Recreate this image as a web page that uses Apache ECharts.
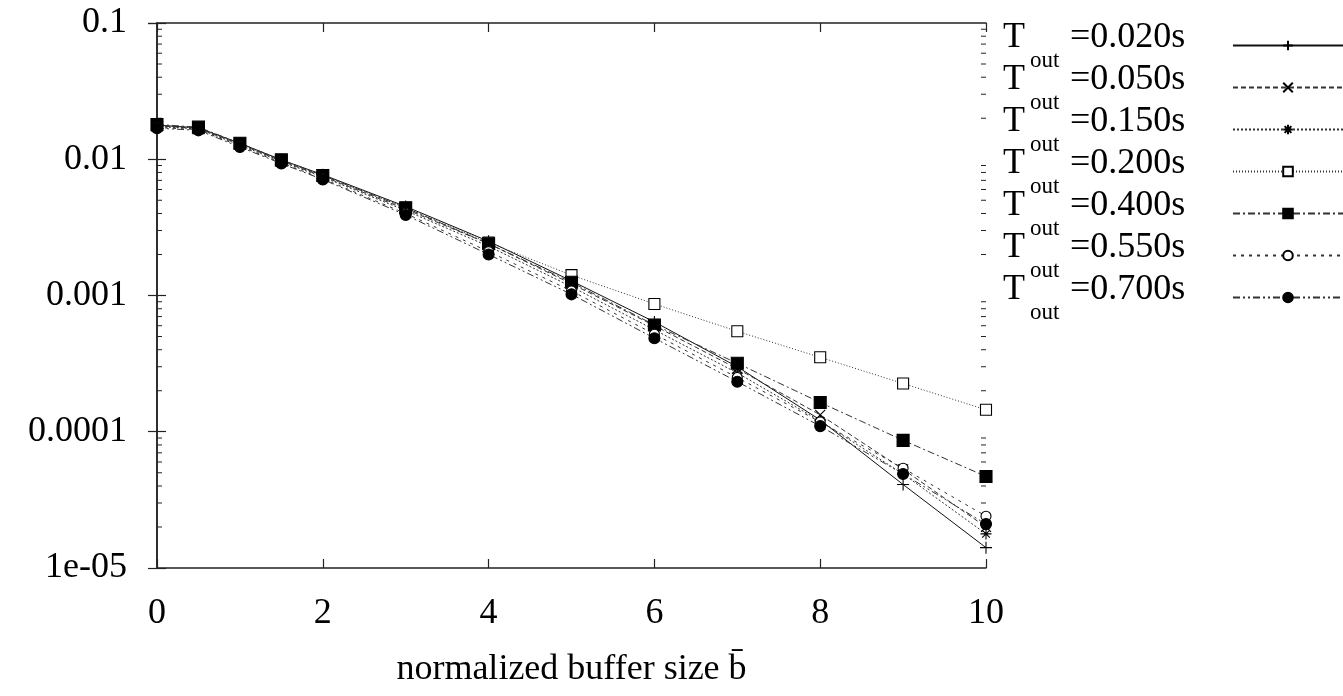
<!DOCTYPE html>
<html>
<head>
<meta charset="utf-8">
<script src="https://cdn.jsdelivr.net/npm/echarts@6/dist/echarts.min.js"></script>
<style>
  html, body { margin: 0; padding: 0; background: #fff; }
  #chart { width: 1343px; height: 696px; }
</style>
</head>
<body>
<div id="chart"></div>
<script>
// Normalized buffer size on the x axis
const bufferSizes = [0, 0.5, 1, 1.5, 2, 3, 4, 5, 6, 7, 8, 9, 10];

// Timeout values (seconds) for each curve
const timeouts = ['0.020', '0.050', '0.150', '0.200', '0.400', '0.550', '0.700'];

// Loss probability per timeout
const loss020 = [0.0178, 0.0170, 0.0131, 0.0099, 0.0077, 0.0045, 0.0025, 0.00128, 0.00064, 0.00030, 0.000122, 0.000041, 0.0000141];
const loss050 = [0.0176, 0.0168, 0.0129, 0.0097, 0.0075, 0.0043, 0.0024, 0.00122, 0.00060, 0.00029, 0.000133, 0.000053, 0.000020];
const loss150 = [0.0174, 0.0167, 0.0127, 0.0096, 0.0074, 0.0042, 0.0023, 0.00116, 0.00056, 0.00027, 0.000120, 0.000049, 0.0000178];
const loss200 = [0.0177, 0.0169, 0.0130, 0.0098, 0.0076, 0.0044, 0.00245, 0.00141, 0.000867, 0.000546, 0.000352, 0.000226, 0.000145];
const loss400 = [0.0180, 0.0172, 0.0131, 0.0099, 0.0076, 0.0044, 0.0024, 0.00125, 0.000608, 0.000318, 0.000164, 0.0000865, 0.000047];
const loss550 = [0.0171, 0.0165, 0.0125, 0.0094, 0.0072, 0.0040, 0.0021, 0.00108, 0.00052, 0.00025, 0.000118, 0.000054, 0.000024];
const loss700 = [0.0169, 0.0163, 0.0123, 0.0093, 0.0071, 0.0039, 0.0020, 0.00102, 0.000486, 0.000233, 0.000110, 0.000049, 0.000021];

// Tick labels
const yTickLabels = ['1e-05', '0.0001', '0.001', '0.01', '0.1'];
const xTickLabels = ['0', '2', '4', '6', '8', '10'];

const FONT = '"Liberation Serif", "Times New Roman", serif';

// gnuplot-like point and dash styles
const PLUS = 'path://M0,5L10,5M5,0L5,10';
const CROSS = 'path://M0,0L10,10M10,0L0,10';
const STAR = 'path://M0,5L10,5M5,0L5,10M1.5,1.5L8.5,8.5M8.5,1.5L1.5,8.5';

const styles = [
  { data: loss020, symbol: PLUS,     size: 12, fill: '#000', dash: 'solid',              color: '#111' },
  { data: loss050, symbol: CROSS,    size: 10, fill: '#000', dash: [5, 3],               color: '#333' },
  { data: loss150, symbol: STAR,     size: 11, fill: '#000', dash: [2, 2],               color: '#333' },
  { data: loss200, symbol: 'rect',   size: 11, fill: '#fff', dash: [1, 2],               color: '#333' },
  { data: loss400, symbol: 'rect',   size: 12, fill: '#000', dash: [7, 3, 2, 3],         color: '#333' },
  { data: loss550, symbol: 'circle', size: 10, fill: '#fff', dash: [3, 5],               color: '#333' },
  { data: loss700, symbol: 'circle', size: 11, fill: '#000', dash: [7, 3, 2, 3, 2, 3],   color: '#333' }
];

const seriesNames = timeouts.map(t => 'Tout=' + t + 's');

const lineSeries = styles.map((s, i) => ({
  name: seriesNames[i],
  type: 'line',
  data: bufferSizes.map((x, j) => [x, s.data[j]]),
  symbol: s.symbol,
  symbolSize: s.size,
  showAllSymbol: true,
  clip: false,
  lineStyle: { color: s.color, width: 1, type: s.dash },
  itemStyle: { color: s.fill, borderColor: '#000', borderWidth: 1.1 },
  emphasis: { disabled: true },
  z: 3 + i
}));

// Minor log ticks (2..9 within each decade) on left and right frame
const minorTickValues = [];
for (let e = -5; e < -1; e++) {
  for (let m = 2; m <= 9; m++) minorTickValues.push(m * Math.pow(10, e));
}

const minorTickSeries = {
  name: 'minorTicks',
  type: 'custom',
  silent: true,
  clip: false,
  data: minorTickValues.map(v => [0, v]),
  renderItem: (params, api) => {
    const left = api.coord([0, api.value(1)]);
    const right = api.coord([10, api.value(1)]);
    const st = { stroke: '#222', lineWidth: 1 };
    return {
      type: 'group',
      children: [
        { type: 'line', shape: { x1: left[0], y1: left[1], x2: left[0] + 5, y2: left[1] }, style: st },
        { type: 'line', shape: { x1: right[0] - 5, y1: right[1], x2: right[0], y2: right[1] }, style: st }
      ]
    };
  },
  z: 2
};

const yLabel = v => yTickLabels[Math.round(Math.log10(v)) + 5] || '';
const xLabel = v => xTickLabels[Math.round(v / 2)] || '';

const axisLineStyle = { lineStyle: { color: '#222', width: 1.5 } };

const option = {
  animation: false,
  backgroundColor: '#fff',
  grid: { left: 157, top: 23, width: 829, height: 545, containLabel: false },
  legend: {
    orient: 'vertical',
    left: 1003,
    top: 19,
    padding: 0,
    align: 'right',
    itemWidth: 110,
    itemHeight: 12,
    itemGap: -11,
    data: seriesNames,
    selectedMode: false,
    formatter: name => {
      const t = timeouts[seriesNames.indexOf(name)];
      return '{t|T}{s|out}{e|=' + t + 's}';
    },
    textStyle: {
      color: '#000',
      fontFamily: FONT,
      rich: {
        t: { fontFamily: FONT, fontSize: 36, color: '#000', lineHeight: 38, padding: [0, 0, 15, 0], width: 27, align: 'left' },
        s: { fontFamily: FONT, fontSize: 23, color: '#000', lineHeight: 23, padding: [30, 0, 0, 0], width: 40, align: 'left' },
        e: { fontFamily: FONT, fontSize: 36, color: '#000', lineHeight: 38, padding: [0, 0, 15, 0], width: 158, align: 'left' }
      }
    }
  },
  xAxis: [
    {
      type: 'value', min: 0, max: 10, interval: 2, position: 'bottom',
      axisLine: axisLineStyle,
      axisTick: { inside: true, length: 9, lineStyle: { color: '#222', width: 1.2 } },
      axisLabel: { formatter: xLabel, fontFamily: FONT, fontSize: 36, color: '#000', margin: 28 },
      splitLine: { show: false },
      name: 'normalized buffer size b\u0304',
      nameLocation: 'middle',
      nameGap: 84,
      nameTextStyle: { fontFamily: FONT, fontSize: 36, color: '#000' }
    },
    {
      type: 'value', min: 0, max: 10, interval: 2, position: 'top',
      axisLine: axisLineStyle,
      axisTick: { inside: true, length: 9, lineStyle: { color: '#222', width: 1.2 } },
      axisLabel: { show: false },
      splitLine: { show: false }
    }
  ],
  yAxis: [
    {
      type: 'log', logBase: 10, min: 1e-5, max: 0.1, position: 'left',
      axisLine: axisLineStyle,
      axisTick: { inside: true, length: 9, lineStyle: { color: '#222', width: 1.2 } },
      axisLabel: { formatter: yLabel, fontFamily: FONT, fontSize: 36, color: '#000', margin: 30 },
      splitLine: { show: false }
    },
    {
      type: 'log', logBase: 10, min: 1e-5, max: 0.1, position: 'right',
      axisLine: axisLineStyle,
      axisTick: { inside: true, length: 9, lineStyle: { color: '#222', width: 1.2 } },
      axisLabel: { show: false },
      splitLine: { show: false }
    }
  ],
  series: [minorTickSeries].concat(lineSeries)
};

const chart = echarts.init(document.getElementById('chart'), null, { renderer: 'canvas' });
chart.setOption(option);
</script>
</body>
</html>
